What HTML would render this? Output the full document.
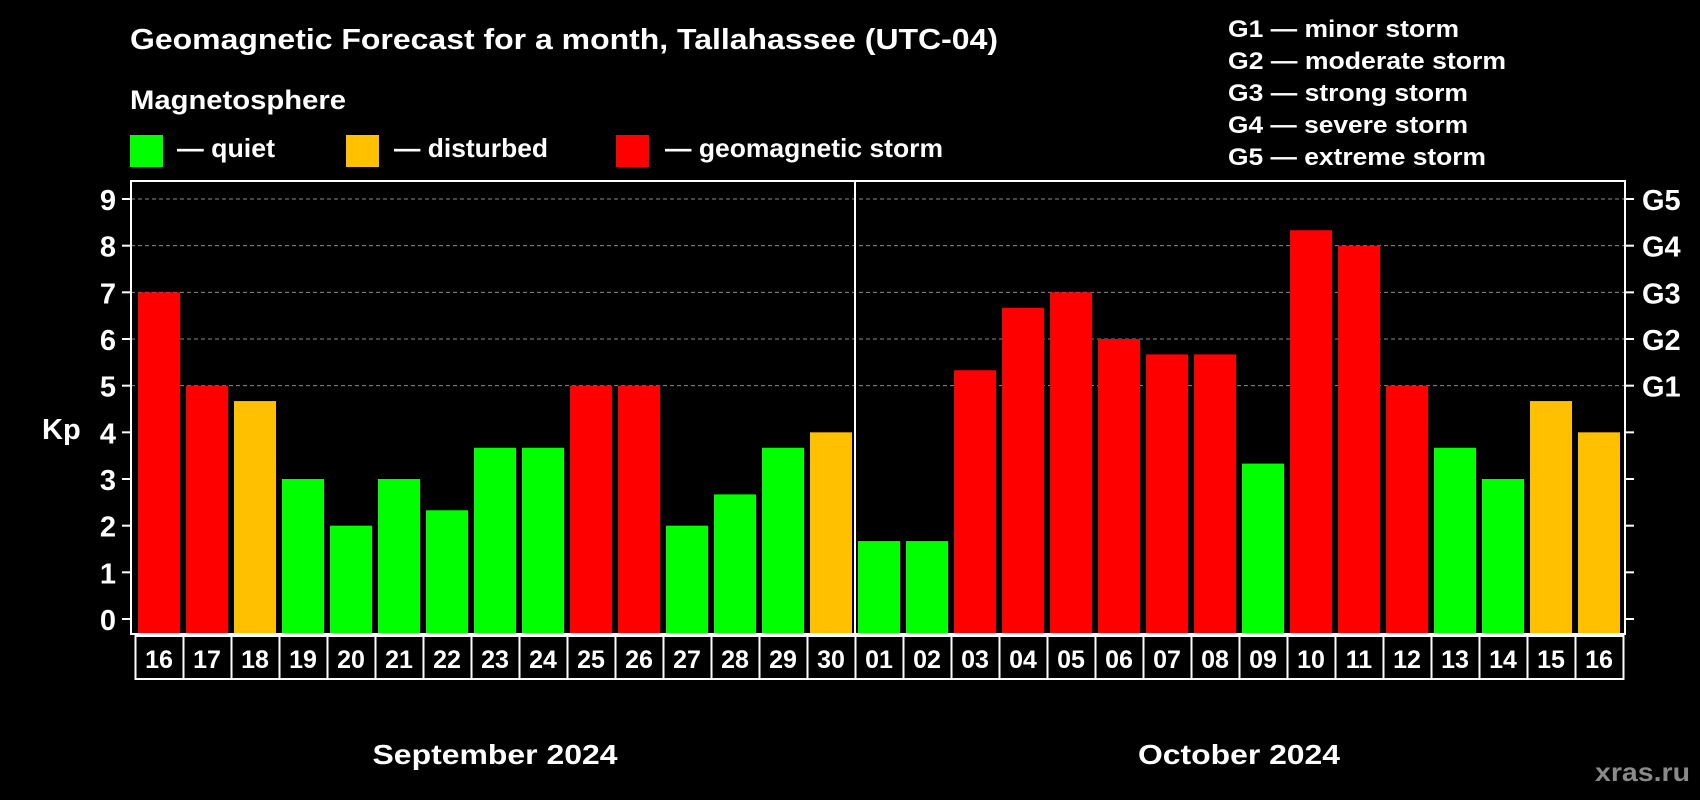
<!DOCTYPE html>
<html><head><meta charset="utf-8"><style>
html,body{margin:0;padding:0;background:#000;}
svg{display:block;font-family:"Liberation Sans",sans-serif;font-weight:bold;}
</style></head><body>
<svg id="chart" width="1700" height="800" viewBox="0 0 1700 800">
<rect x="0" y="0" width="1700" height="800" fill="#000"/>
<text x="130" y="49" font-size="29" fill="#fff" textLength="868" lengthAdjust="spacingAndGlyphs">Geomagnetic Forecast for a month, Tallahassee (UTC-04)</text>
<text x="130" y="109" font-size="27" fill="#fff" textLength="216" lengthAdjust="spacingAndGlyphs">Magnetosphere</text>
<rect x="130" y="135" width="33" height="32" fill="#00ff00"/>
<text x="177" y="157" font-size="26" fill="#fff" textLength="98" lengthAdjust="spacingAndGlyphs">— quiet</text>
<rect x="346" y="135" width="33" height="32" fill="#ffc000"/>
<text x="394" y="157" font-size="26" fill="#fff" textLength="154" lengthAdjust="spacingAndGlyphs">— disturbed</text>
<rect x="616" y="135" width="33" height="32" fill="#ff0000"/>
<text x="665" y="157" font-size="26" fill="#fff" textLength="278" lengthAdjust="spacingAndGlyphs">— geomagnetic storm</text>
<g font-size="24" fill="#fff">
<text x="1228" y="37" textLength="231" lengthAdjust="spacingAndGlyphs">G1 — minor storm</text>
<text x="1228" y="69" textLength="278" lengthAdjust="spacingAndGlyphs">G2 — moderate storm</text>
<text x="1228" y="101" textLength="240" lengthAdjust="spacingAndGlyphs">G3 — strong storm</text>
<text x="1228" y="133" textLength="240" lengthAdjust="spacingAndGlyphs">G4 — severe storm</text>
<text x="1228" y="165" textLength="258" lengthAdjust="spacingAndGlyphs">G5 — extreme storm</text>
</g>
<g id="plot"></g>
<text x="495" y="764" font-size="28" fill="#fff" text-anchor="middle" textLength="245" lengthAdjust="spacingAndGlyphs">September 2024</text>
<text x="1239" y="764" font-size="28" fill="#fff" text-anchor="middle" textLength="202" lengthAdjust="spacingAndGlyphs">October 2024</text>
<text x="1690" y="781" font-size="26" fill="#8a8a8a" text-anchor="end" textLength="95" lengthAdjust="spacingAndGlyphs">xras.ru</text>
<text x="42" y="439" font-size="29" fill="#fff">Kp</text>
</svg>
<script>
const days = ["16","17","18","19","20","21","22","23","24","25","26","27","28","29","30","01","02","03","04","05","06","07","08","09","10","11","12","13","14","15","16"];
const kpValues = [7,5,4.67,3,2,3,2.33,3.67,3.67,5,5,2,2.67,3.67,4,1.67,1.67,5.33,6.67,7,6,5.67,5.67,3.33,8.33,8,5,3.67,3,4.67,4];
const yTicks = [0,1,2,3,4,5,6,7,8,9];
const gLabels = ["G1","G2","G3","G4","G5"];
const gLevels = [5,6,7,8,9];

const NS = "http://www.w3.org/2000/svg";
const g = document.getElementById("plot");
const frameL = 131, frameR = 1625, frameT = 181, frameB = 634;
const slotStart = 135, slotW = 48, barPad = 3;
const y = v => 619 - v * (420 / 9);
const x = i => slotStart + i * slotW;
function mk(tag, attrs) {
  const e = document.createElementNS(NS, tag);
  for (const k in attrs) e.setAttribute(k, attrs[k]);
  g.appendChild(e);
  return e;
}
gLevels.forEach(v => {
  const l = mk("line", {x1: frameL, x2: frameR, y1: y(v), y2: y(v), stroke: "#8a8a8a", "stroke-width": 1, "stroke-dasharray": "4,3"});
  
  
});
kpValues.forEach((v, i) => {
  const col = v >= 5 ? "#ff0000" : (v >= 4 ? "#ffc000" : "#00ff00");
  const r = mk("rect", {x: x(i) + barPad, y: y(v), width: slotW - 2 * barPad, height: y(0) - y(v) + 15, fill: col});
  
  
  const b = mk("rect", {x: x(i) + 0.5, y: 636, width: slotW, height: 43, fill: "none", stroke: "#fff", "stroke-width": 2});
  
  
  const t = mk("text", {x: x(i) + slotW / 2, y: 668, "font-size": 25, fill: "#fff", "text-anchor": "middle"});
  t.textContent = days[i];
  
  
});
const fr = mk("rect", {x: frameL, y: frameT, width: frameR - frameL, height: frameB - frameT, fill: "none", stroke: "#fff", "stroke-width": 2});


const dv = mk("line", {x1: x(15), x2: x(15), y1: frameT, y2: frameB, stroke: "#fff", "stroke-width": 2});


yTicks.forEach(v => {
  const l1 = mk("line", {x1: 122, x2: frameL, y1: y(v), y2: y(v), stroke: "#fff", "stroke-width": 2});
  
  
  const l2 = mk("line", {x1: frameR, x2: 1634, y1: y(v), y2: y(v), stroke: "#fff", "stroke-width": 2});
  
  
  const t = mk("text", {x: 116, y: y(v) + 11, "font-size": 29, fill: "#fff", "text-anchor": "end"});
  t.textContent = v;
  
  
});
gLabels.forEach((lab, i) => {
  const t = mk("text", {x: 1642, y: y(gLevels[i]) + 11, "font-size": 29, fill: "#fff"});
  t.textContent = lab;
  
  
});
</script>
</body></html>
